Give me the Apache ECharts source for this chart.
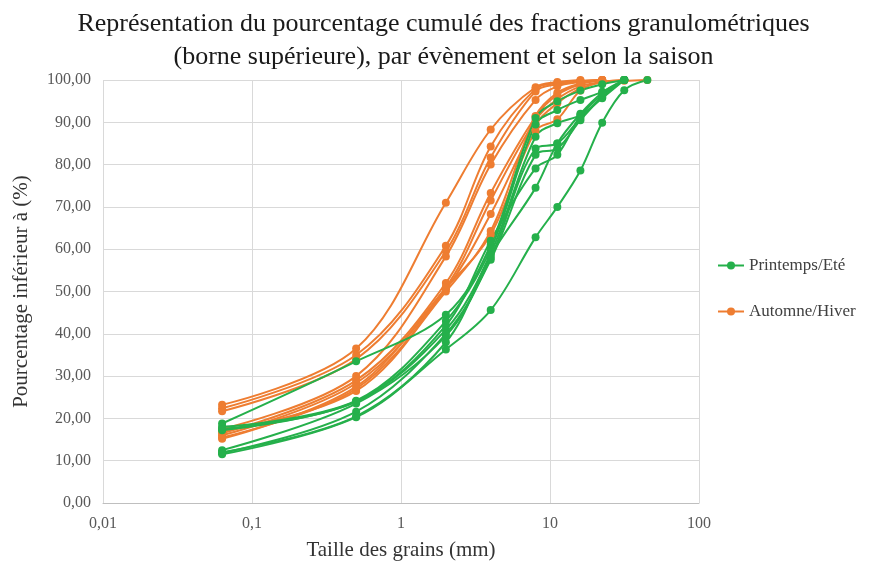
<!DOCTYPE html>
<html>
<head>
<meta charset="utf-8">
<script src="https://cdn.jsdelivr.net/npm/echarts@6/dist/echarts.min.js"></script>
<style>
  html, body { margin: 0; padding: 0; background: #fff; }
  #chart { width: 887px; height: 563px; }
</style>
</head>
<body>
<div id="chart"></div>
<script>
// tailles des tamis (mm), borne supérieure
const sizes = [0.063, 0.5, 2, 4, 8, 11.2, 16, 22.4, 31.5, 45];

// Printemps/Eté
const green1 = [18.8, 33.5, 44.5, 61.0, 91.0, 95.0, 97.5, 99.0, 100];
const green2 = [18.0, 24.2, 43.0, 60.0, 89.5, 92.9, 95.3, 97.2, 100];
const green3 = [17.2, 24.0, 41.0, 59.0, 86.6, 89.8, 91.7, 95.7, 100];
const green4 = [12.5, 23.5, 39.5, 58.0, 83.8, 85.0, 91.0, 96.0, 100];
const green5 = [11.8, 21.6, 40.0, 57.5, 82.3, 83.8, 90.5, 96.0, 100];
const green6 = [17.5, 24.0, 42.0, 62.0, 79.1, 82.3, 91.5, 96.5, 100];
const green7 = [12.0, 20.5, 38.0, 58.5, 74.5, 85.0, 92.0, 97.0, 100];
const green8 = [11.5, 20.3, 36.3, 45.6, 62.8, 70.0, 78.6, 89.9, 97.6, 100];

// Automne/Hiver
const orange1 = [23.2, 36.5, 71.0, 88.3, 98.3, 99.5, 100];
const orange2 = [22.4, 35.0, 60.8, 84.3, 97.9, 99.3, 99.8, 100];
const orange3 = [21.7, 34.0, 59.5, 81.7, 97.3, 99.0, 99.7, 100];
const orange4 = [17.5, 30.0, 58.3, 80.0, 95.3, 98.5, 99.5, 100];
const orange5 = [16.5, 29.0, 52.0, 73.3, 91.3, 96.5, 99.0, 100];
const orange6 = [16.0, 28.3, 51.0, 71.5, 90.5, 95.5, 98.5, 99.5, 100];
const orange7 = [15.5, 27.0, 50.5, 68.3, 89.5, 94.5, 98.0, 99.5, 100];
const orange8 = [17.0, 26.5, 50.0, 64.3, 91.5, 97.0, 99.2, 100];
const orange9 = [15.2, 27.5, 50.8, 63.5, 88.0, 90.7, 97.5, 99.5, 99.8, 100];

const greenSeries = [green1, green2, green3, green4, green5, green6, green7, green8];
const orangeSeries = [orange1, orange2, orange3, orange4, orange5, orange6, orange7, orange8, orange9];

const GREEN = '#25b04b';
const ORANGE = '#ee7d31';
const FONT = 'Liberation Serif';

function makeSeries(values, name, color) {
  return {
    name: name,
    type: 'line',
    smooth: 0.35,
    symbol: 'circle',
    symbolSize: 8,
    lineStyle: { width: 2, color: color },
    itemStyle: { color: color },
    data: values.map((v, i) => [sizes[i], v])
  };
}

let series = [];
// orange first so green sits on top at low sizes like the reference
orangeSeries.forEach(s => series.push(makeSeries(s, 'Automne/Hiver', ORANGE)));
greenSeries.forEach(s => series.push(makeSeries(s, 'Printemps/Eté', GREEN)));

const chart = echarts.init(document.getElementById('chart'));
chart.setOption({
  animation: false,
  backgroundColor: '#ffffff',
  title: {
    text: 'Représentation du pourcentage cumulé des fractions granulométriques\n(borne supérieure), par évènement et selon la saison',
    left: 'center',
    top: 3,
    textStyle: { fontFamily: FONT, fontSize: 26, fontWeight: 'normal', color: '#1a1a1a', lineHeight: 33 }
  },
  grid: { left: 103, right: 188, top: 80, bottom: 60, outerBoundsMode: 'none' },
  legend: {
    orient: 'vertical',
    left: 712,
    top: 252,
    itemGap: 29,
    itemWidth: 26,
    itemHeight: 10,
    data: ['Printemps/Eté', 'Automne/Hiver'],
    textStyle: { fontFamily: FONT, fontSize: 17, color: '#404040' }
  },
  xAxis: {
    type: 'log',
    logBase: 10,
    min: 0.01,
    max: 100,
    name: 'Taille des grains (mm)',
    nameLocation: 'middle',
    nameGap: 37,
    nameTextStyle: { fontFamily: FONT, fontSize: 21, color: '#333' },
    axisLine: { lineStyle: { color: '#bfbfbf' } },
    axisTick: { show: false },
    axisLabel: {
      margin: 13,
      fontFamily: FONT, fontSize: 16, color: '#595959',
      formatter: v => String(+v.toPrecision(3)).replace('.', ',')
    },
    splitLine: { show: true, lineStyle: { color: '#d9d9d9' } }
  },
  yAxis: {
    type: 'value',
    min: 0,
    max: 100,
    interval: 10,
    name: 'Pourcentage inférieur à (%)',
    nameLocation: 'middle',
    nameGap: 71,
    nameTextStyle: { fontFamily: FONT, fontSize: 21, color: '#333' },
    axisLine: { show: false },
    axisTick: { show: false },
    axisLabel: {
      margin: 12,
      fontFamily: FONT, fontSize: 16, color: '#595959',
      formatter: v => v.toFixed(2).replace('.', ',')
    },
    splitLine: { show: true, lineStyle: { color: '#d9d9d9' } }
  },
  series: series
});
</script>
</body>
</html>
